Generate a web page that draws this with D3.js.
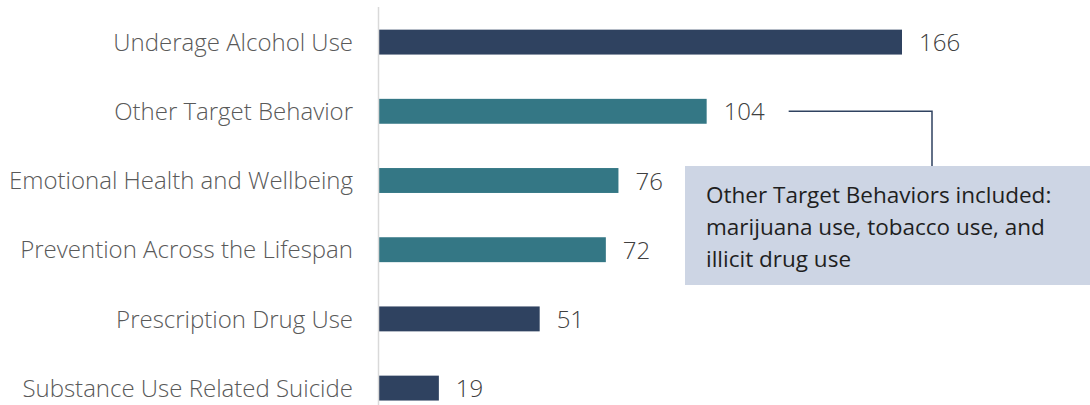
<!DOCTYPE html>
<html>
<head>
<meta charset="utf-8">
<script src="https://cdn.jsdelivr.net/npm/d3@7"></script>
<style>
  html, body { margin: 0; padding: 0; background: #fff; }
  svg { display: block; font-family: "Open Sans", Lato, sans-serif; }
</style>
</head>
<body>
<div id="chart"></div>
<script>
(function () {
  "use strict";

  const categories = [
    "Underage Alcohol Use",
    "Other Target Behavior",
    "Emotional Health and Wellbeing",
    "Prevention Across the Lifespan",
    "Prescription Drug Use",
    "Substance Use Related Suicide"
  ];
  const values = [166, 104, 76, 72, 51, 19];
  const highlighted = [false, true, true, true, false, false];
  const noteLines = [
    "Other Target Behaviors included:",
    "marijuana use, tobacco use, and",
    "illicit drug use"
  ];

  const W = 1090, H = 405;
  const NAVY = "#2F4260", TEAL = "#347785";

  const svg = d3.select("#chart").append("svg")
    .attr("width", W).attr("height", H);

  const x = d3.scaleLinear().domain([0, 166]).range([379, 902]);
  const y = d3.scaleBand().domain(categories).range([7.5, 422.7])
    .paddingInner(0.64).paddingOuter(0.32);

  const data = categories.map((c, i) => ({ cat: c, value: values[i], hl: highlighted[i] }));

  // bars
  svg.append("g").selectAll("rect")
    .data(data).enter().append("rect")
    .attr("x", x(0))
    .attr("y", d => y(d.cat))
    .attr("width", d => x(d.value) - x(0))
    .attr("height", y.bandwidth())
    .attr("fill", d => d.hl ? TEAL : NAVY);

  // vertical axis line
  svg.append("line")
    .attr("x1", x(0) - 0.5).attr("x2", x(0) - 0.5)
    .attr("y1", 7).attr("y2", H)
    .attr("stroke", "#d9d9d9").attr("stroke-width", 1.5);

  // category labels
  svg.append("g").selectAll("text")
    .data(data).enter().append("text")
    .attr("x", 353)
    .attr("y", d => y(d.cat) + y.bandwidth() / 2)
    .attr("dy", "0.36em")
    .attr("text-anchor", "end")
    .attr("font-size", "24px")
    .attr("font-weight", 300)
    .attr("fill", "#595959")
    .text(d => d.cat);

  // value labels
  svg.append("g").selectAll("text")
    .data(data).enter().append("text")
    .attr("x", d => x(d.value) + 17)
    .attr("y", d => y(d.cat) + y.bandwidth() / 2)
    .attr("dy", "0.38em")
    .attr("font-size", "24px")
    .attr("font-weight", 300)
    .attr("fill", "#404040")
    .text(d => d.value);

  // annotation connector
  const cy = y(categories[1]) + y.bandwidth() / 2;
  const boxTop = 166;
  svg.append("path")
    .attr("d", `M${x(104) + 82},${cy} H932 V${boxTop}`)
    .attr("fill", "none")
    .attr("stroke", NAVY)
    .attr("stroke-width", 1.5);

  // annotation box
  svg.append("rect")
    .attr("x", 685).attr("y", boxTop)
    .attr("width", 410).attr("height", 119)
    .attr("fill", "#CDD5E4");

  svg.append("g").selectAll("text")
    .data(noteLines).enter().append("text")
    .attr("x", 706)
    .attr("y", (d, i) => 203 + i * 32)
    .attr("font-size", "22.5px")
    .attr("font-weight", 400)
    .attr("fill", "#1f1f1f")
    .text(d => d);
})();
</script>
</body>
</html>
